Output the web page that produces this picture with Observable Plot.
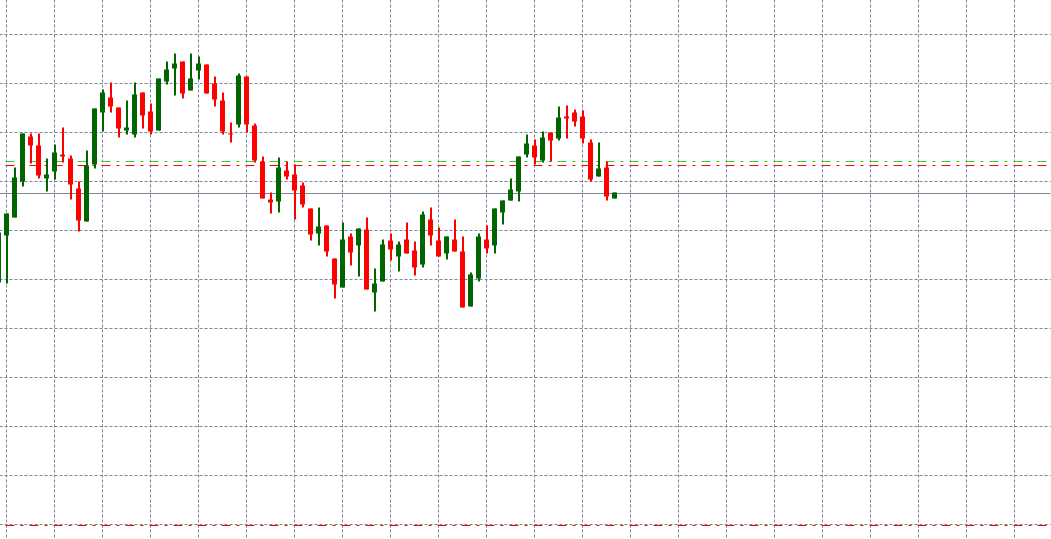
<!DOCTYPE html>
<html>
<head>
<meta charset="utf-8">
<script src="https://cdn.jsdelivr.net/npm/d3@7"></script>
<script src="https://cdn.jsdelivr.net/npm/@observablehq/plot@0.6"></script>
<style>
html, body { margin: 0; padding: 0; background: #ffffff; overflow: hidden; }
#chart svg { display: block; }
</style>
</head>
<body>
<div id="chart"></div>
<script>
// bar index of each candle (bar -1 is cut off at the left edge)
const bars = d3.range(-1, 77);

const open = [256,303,321,357,402,393,360,367,384,380,350,317,374,426,441,431,408,404,446,427,
  408,457,470,477,448,468,474,455,438,405,414,462,413,377,339,337,368,364,353,330,
  305,313,280,251,302,293,309,246,257,298,282,299,288,274,319,298,285,299,287,232,
  260,299,293,326,338,347,384,393,378,406,400,422,426,422,396,362,371,340];
const high = [306,325,371,405,405,405,380,394,411,383,357,388,430,449,456,431,438,456,446,435,
  460,477,485,477,485,482,474,462,446,416,465,462,415,382,346,381,377,374,356,330,
  331,313,280,316,305,310,321,270,299,305,297,316,297,327,331,311,302,319,302,266,
  305,313,330,338,360,382,404,399,407,406,432,433,429,428,399,396,377,346];
const low = [256,255,321,352,375,360,347,359,376,339,307,317,370,407,426,401,404,401,410,404,
  408,454,443,440,448,459,445,432,404,396,411,406,376,340,325,326,359,319,331,298,
  293,282,240,251,273,262,249,227,257,278,267,285,263,271,293,282,279,287,231,232,
  257,285,285,314,338,337,381,374,376,377,398,400,412,395,357,362,338,340];
const close = [306,325,361,405,393,363,364,386,382,354,318,373,430,446,432,410,411,444,423,407,
  460,469,475,445,460,475,445,439,407,404,463,414,378,340,336,371,362,348,334,304,
  312,287,254,299,286,310,249,255,294,289,294,285,271,324,303,282,302,287,231,264,
  302,290,330,338,349,382,395,381,401,398,421,420,417,400,359,370,342,346];

// grid: a vertical line every 6 bars, horizontal price levels
const gridBars = d3.range(0, 127, 6);
const gridPrices = [504.5, 455.5, 406.5, 357.5, 308.5, 259.5, 210.5, 161.5, 112.5, 63.5, 14.5];

// horizontal price lines
const bidLine = [345.5];
const greenLevel = [377.5];
const redLevels = [373.5, 13.5];

const candles = bars.map((b, j) => ({
  bar: b, o: open[j], h: high[j], l: low[j], c: close[j],
  up: close[j] >= open[j]
}));

const UP = "#006400", DOWN = "#ff0000", GRID = "#778899";
// cancel Plot's half-pixel offset so 1px lines land on whole pixels
const off = (typeof window !== "undefined" && window.devicePixelRatio > 1) ? 0 : 0.5;
const crisp = {dx: -off, dy: -off};

const chart = Plot.plot({
  width: 1051,
  height: 539,
  marginTop: 0, marginRight: 0, marginBottom: 0, marginLeft: 0,
  x: {type: "linear", domain: [-6.5 / 8, 1044.5 / 8], range: [0, 1051], axis: null},
  y: {type: "linear", domain: [0, 539], range: [539, 0], axis: null},
  style: {background: "#ffffff"},
  marks: [
    Plot.ruleX(gridBars, {x: d => d, stroke: GRID, strokeWidth: 1, strokeDasharray: "3,2", ...crisp}),
    Plot.ruleY(gridPrices, {y: d => d, stroke: GRID, strokeWidth: 1, strokeDasharray: "3,2", ...crisp}),
    Plot.ruleY(bidLine, {y: d => d, stroke: GRID, strokeWidth: 1, ...crisp}),
    Plot.ruleY(greenLevel, {y: d => d, stroke: "#32cd32", strokeWidth: 1, strokeDasharray: "9,6,3,6", strokeDashoffset: 18, ...crisp}),
    Plot.ruleY(redLevels, {y: d => d, stroke: "#ff0000", strokeWidth: 1, strokeDasharray: "9,6,3,6", strokeDashoffset: 18, ...crisp}),
    // wicks (2px wide, sitting half a pixel right of the body centre)
    Plot.ruleX(candles, {x: "bar", y1: "l", y2: "h", stroke: d => d.up ? UP : DOWN, strokeWidth: 2, dx: 0.5 - off, dy: -off}),
    // bodies
    Plot.ruleX(candles, {x: "bar", y1: "o", y2: "c", stroke: d => d.up ? UP : DOWN, strokeWidth: 5, ...crisp})
  ]
});

document.getElementById("chart").appendChild(chart);
</script>
</body>
</html>
